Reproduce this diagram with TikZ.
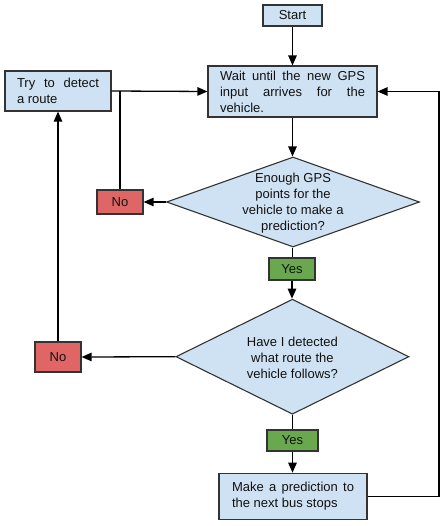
\documentclass[tikz,border=0pt]{standalone}
\usepackage{fontspec}
\setmainfont{Liberation Sans}
\usetikzlibrary{shapes.geometric,arrows.meta}
\definecolor{bfill}{HTML}{CFE2F3}
\definecolor{rfill}{HTML}{E06666}
\definecolor{gfill}{HTML}{6AA84F}
\definecolor{edge}{HTML}{333333}
\definecolor{txt}{HTML}{111111}
\tikzset{
  box/.style={draw=edge, line width=1.2pt, rectangle, inner sep=0pt, text=txt},
  bluebox/.style={box, fill=bfill},
  redbox/.style={box, fill=rfill},
  greenbox/.style={box, fill=gfill},
  dia/.style={draw=edge, line width=1.1pt, diamond, fill=bfill, inner sep=0pt},
  diatext/.style={align=center, inner sep=0pt, text=txt},
  conn/.style={draw=black, line width=1.3pt},
  arr/.style={conn, -{Triangle[length=10pt,width=8.5pt]}}
}
\begin{document}
\begin{tikzpicture}[x=1pt,y=-1pt,font=\fontsize{13}{16}\selectfont]
\useasboundingbox (0,0) rectangle (446,526);
\fill[white] (0,0) rectangle (446,526);

\node[bluebox, minimum width=59pt, minimum height=21pt] (start) at (292.5,15.5) {Start};
\node[bluebox, minimum width=169pt, minimum height=51pt, text width=145pt, align=justify] (wait) at (292.5,91.5)
  {Wait until the new GPS\linebreak input arrives for the\linebreak vehicle.};
\node[bluebox, minimum width=106pt, minimum height=40pt, text width=82pt, align=justify] (try) at (58,91)
  {Try to detect\linebreak a route};
\node[redbox, minimum width=46pt, minimum height=24pt] (no1) at (120,202) {No};
\node[dia, minimum width=253pt, minimum height=90pt] (d1) at (293,202) {};
\node[diatext] (d1t) at (293,203) {Enough GPS\\points for the\\vehicle to make a\\prediction?};
\node[greenbox, minimum width=46pt, minimum height=22pt] (yes1) at (292,269) {Yes};
\node[dia, minimum width=233pt, minimum height=115pt] (d2) at (292.4,356.7) {};
\node[diatext] (d2t) at (292.4,357.7) {Have I detected\\what route the\\vehicle follows?};
\node[redbox, minimum width=46pt, minimum height=30pt] (no2) at (58,357) {No};
\node[greenbox, minimum width=51pt, minimum height=21pt] (yes2) at (292.5,440.5) {Yes};
\node[bluebox, minimum width=148pt, minimum height=46pt, text width=122pt, align=justify] (make) at (293,496.3)
  {Make a prediction to\linebreak the next bus stops};

\coordinate (rx) at (439,0);

\draw[arr] (start.south) -- (start.south |- wait.north);
\draw[arr] (wait.south -| start.south) -- (start.south |- d1.north);
\draw[conn] (start.south |- d1.south) -- (start.south |- yes1.north);
\draw[arr] (yes1.south) -- (yes1.south |- d2.north);
\draw[conn] (d2.south) -- (d2.south |- yes2.north);
\draw[arr] (yes2.south) -- (yes2.south |- make.north);
\draw[arr] (d1.west) -- (no1.east);
\draw[arr] (try.east) -- (wait.west);
\draw[conn] (no1.north) -- (no1.north |- wait.west);
\draw[arr] (d2.west) -- (no2.east);
\draw[arr] (no2.north) -- (try.south);
\draw[arr] (make.east) -- (make.east -| rx) |- (wait.east);
\end{tikzpicture}
\end{document}
